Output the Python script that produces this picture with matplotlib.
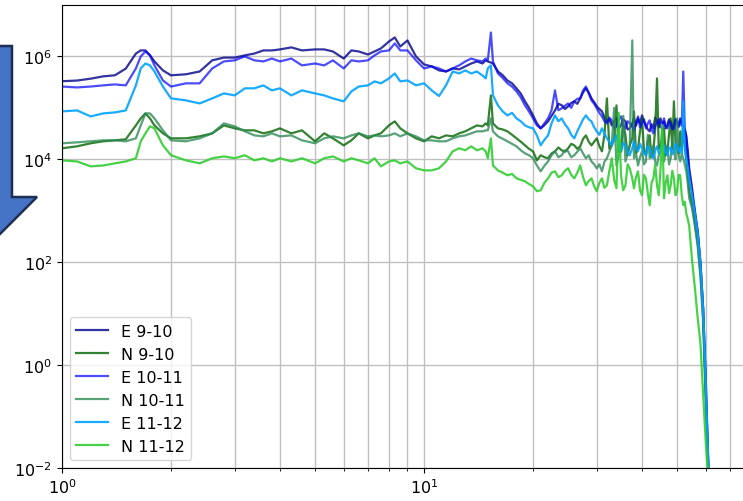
import matplotlib
matplotlib.use("Agg")
import matplotlib.pyplot as plt
import matplotlib.ticker as mticker
from matplotlib.patches import Polygon

# frequency axis (Hz)
freq = [1.0, 1.1, 1.2, 1.3, 1.4, 1.5, 1.6, 1.65, 1.7, 1.75, 1.8, 1.9,
        2.0, 2.2, 2.4, 2.6, 2.8, 3.0, 3.2, 3.4, 3.6, 3.8,
        4.0, 4.3, 4.6, 5.0, 5.3, 5.6, 6.0, 6.3, 6.6, 7.0, 7.3, 7.6,
        8.0, 8.3, 8.6, 9.0, 9.5,
        10, 10.5, 11, 11.5, 12, 12.5, 13, 13.5, 14, 14.5, 14.8, 15, 15.3, 15.5,
        16, 16.5, 17, 17.5, 18, 18.5, 19, 19.5,
        20, 20.5, 21, 21.5, 22, 22.5, 23, 23.5, 24, 24.5, 25, 25.5, 26, 26.5, 27, 27.5, 28, 28.5, 29, 29.5,
        30, 30.5, 31, 31.5, 32, 32.5, 33, 33.5, 34, 34.5, 35, 35.5, 36, 36.5, 37, 37.6,
        38, 38.5, 39, 39.5, 40, 40.5, 41, 41.5, 42, 42.5, 43, 43.5, 44, 44.5, 45, 45.5,
        46, 46.5, 47, 47.5, 48, 48.5, 49, 49.5, 50, 50.5, 51, 51.5, 52, 52.5, 53, 53.5,
        54, 55, 56, 57, 58, 59, 60, 61]

e_9_10 = [3.3e5, 3.4e5, 3.7e5, 4.1e5, 4.3e5, 5.8e5, 1.14e6, 1.31e6, 1.31e6, 1.05e6, 8.0e5, 5.35e5,
          4.3e5, 4.5e5, 5.1e5, 8.4e5, 9.5e5, 9.5e5, 1.05e6, 1.14e6, 1.31e6, 1.31e6,
          1.37e6, 1.5e6, 1.31e6, 1.37e6, 1.37e6, 1.25e6, 9.1e5, 1.31e6, 1.25e6, 1.09e6, 1.25e6, 1.43e6,
          1.95e6, 2.34e6, 1.56e6, 2.05e6, 1.0e6,
          7.0e5, 6.4e5, 5.35e5, 5.1e5, 5.85e5, 5.6e5, 6.4e5, 7.3e5, 8.0e5, 7.3e5, 8.4e5, 8.0e5, 7.6e5, 7.3e5,
          5.1e5, 4.3e5, 3.4e5, 3.0e5, 2.4e5, 1.9e5, 1.34e5, 1.0e5,
          7.15e4, 5.0e4, 4.0e4, 4.6e4, 5.47e4, 7.0e4, 8.9e4, 1.2e5, 1.13e5, 9.5e4, 1.07e5, 1.25e5, 1.34e5, 1.2e5, 1.53e5, 2.0e5, 2.4e5, 2.0e5, 1.53e5, 1.3e5,
          1.07e5, 9.5e4, 8.55e4, 6.5e4, 5.47e4, 6.0e4, 4.57e4, 5.5e4, 6.25e4, 4.0e4, 4.57e4, 6.0e4, 5.47e4, 3.8e4, 4.0e4, 5.0e4,
          6.25e4, 4.5e4, 6.25e4, 5.0e4, 7.15e4, 5.5e4, 4.57e4, 3.8e4, 3.5e4, 4.8e4, 4.0e4, 6.5e4, 5.47e4, 4.2e4, 6.25e4, 5.0e4,
          5.47e4, 4.0e4, 4.57e4, 6.0e4, 5.47e4, 4.0e4, 4.57e4, 5.8e4, 5.47e4, 4.5e4, 6.25e4, 5.0e4, 4.57e4, 3.8e4, 2.92e4, 1.5e4,
          6.7e3, 2.74e3, 980, 366, 95.5, 12.6, 0.36, 0.01]

n_9_10 = [1.64e4, 1.79e4, 2.05e4, 2.24e4, 2.34e4, 2.45e4, 4.57e4, 6.25e4, 7.81e4, 6.25e4, 4.57e4, 3.2e4,
          2.56e4, 2.56e4, 2.8e4, 3.2e4, 4.57e4, 4.0e4, 3.66e4, 3.66e4, 3.2e4, 3.5e4,
          4.0e4, 3.2e4, 3.66e4, 2.24e4, 3.2e4, 2.56e4, 1.87e4, 2.34e4, 3.2e4, 2.56e4, 2.92e4, 3.2e4,
          4.57e4, 5.47e4, 4.0e4, 3.2e4, 2.56e4,
          2.24e4, 2.8e4, 2.56e4, 2.92e4, 2.8e4, 3.2e4, 3.5e4, 4.0e4, 4.57e4, 4.37e4, 5.0e4, 4.57e4, 1.75e5, 5.0e4,
          4.0e4, 3.8e4, 3.5e4, 3.0e4, 2.56e4, 2.2e4, 1.87e4, 1.6e4,
          1.43e4, 9.55e3, 1.2e4, 1.1e4, 1.05e4, 1.3e4, 1.43e4, 1.7e4, 1.5e4, 1.4e4, 1.64e4, 2.0e4, 1.87e4, 1.6e4, 1.79e4, 2.5e4, 2.92e4, 2.2e4, 1.87e4, 2.2e4,
          2.56e4, 1.8e4, 1.43e4, 3.0e4, 1.53e5, 1.6e4, 1.87e4, 2.5e4, 1.12e5, 1.4e4, 1.43e4, 5.0e4, 2.92e4, 1.2e4, 1.87e4, 2.56e4,
          8.55e4, 1.3e4, 1.64e4, 3.5e4, 6.25e4, 1.5e4, 1.2e4, 2.2e4, 2.92e4, 1.1e4, 1.43e4, 4.0e4, 3.74e5, 1.6e4, 1.87e4, 2.5e4,
          4.0e4, 1.2e4, 1.43e4, 3.0e4, 6.25e4, 1.6e4, 1.34e5, 2.0e4, 1.87e4, 1.3e4, 3.5e4, 1.5e4, 4.0e4, 2.0e4, 1.05e4, 5.0e3,
          2.4e3, 1.28e3, 572, 234, 61, 8.17, 0.23, 0.008]

e_10_11 = [2.6e5, 2.5e5, 2.6e5, 2.74e5, 2.86e5, 2.74e5, 5.85e5, 1.0e6, 1.25e6, 1.05e6, 6.7e5, 3.42e5,
           2.6e5, 3.0e5, 3.0e5, 5.85e5, 8.0e5, 8.4e5, 1.0e6, 8.4e5, 8.0e5, 9.1e5,
           8.0e5, 9.1e5, 6.7e5, 7.3e5, 6.7e5, 8.4e5, 5.85e5, 8.4e5, 8.0e5, 8.4e5, 1.05e6, 1.25e6,
           1.31e6, 1.79e6, 1.31e6, 1.31e6, 8.4e5,
           5.85e5, 6.4e5, 5.85e5, 5.1e5, 5.85e5, 6.7e5, 8.0e5, 9.1e5, 8.4e5, 8.0e5, 9.1e5, 8.4e5, 2.92e6, 8.0e5,
           4.67e5, 3.8e5, 3.0e5, 2.6e5, 2.09e5, 1.6e5, 1.12e5, 8.5e4,
           6.25e4, 4.57e4, 4.0e4, 5.0e4, 6.25e4, 9.0e4, 2.19e5, 9.0e4, 9.8e4, 1.1e5, 1.22e5, 1.0e5, 1.34e5, 1.5e5, 1.53e5, 2.2e5, 2.6e5, 1.9e5, 1.4e5, 1.2e5,
           9.8e4, 8.0e4, 6.83e4, 5.5e4, 5.0e4, 6.5e4, 5.72e4, 4.0e4, 4.37e4, 6.0e4, 6.83e4, 4.5e4, 4.0e4, 5.5e4, 5.0e4, 4.37e4,
           3.66e4, 5.0e4, 6.83e4, 4.2e4, 5.0e4, 6.0e4, 4.0e4, 5.0e4, 5.72e4, 3.8e4, 3.2e4, 4.5e4, 5.0e4, 6.0e4, 4.37e4, 3.8e4,
           6.25e4, 4.5e4, 4.0e4, 5.5e4, 5.0e4, 3.8e4, 4.0e4, 6.0e4, 5.0e4, 4.2e4, 5.72e4, 4.5e4, 5.1e5, 4.0e4, 2.56e4, 1.2e4,
           5.35e3, 2.19e3, 890, 418, 95.5, 12.6, 0.56, 0.0114]

n_10_11 = [2.05e4, 2.14e4, 2.24e4, 2.34e4, 2.34e4, 2.24e4, 2.56e4, 4.57e4, 7.81e4, 7.81e4, 6.25e4, 3.66e4,
           2.34e4, 2.24e4, 2.56e4, 3.2e4, 5.0e4, 4.37e4, 3.5e4, 2.92e4, 2.8e4, 3.2e4,
           2.8e4, 2.92e4, 2.34e4, 2.05e4, 2.56e4, 2.8e4, 2.56e4, 2.92e4, 3.2e4, 2.8e4, 2.92e4, 2.8e4,
           2.92e4, 3.2e4, 2.8e4, 3.2e4, 2.8e4,
           2.34e4, 2.34e4, 2.24e4, 2.24e4, 2.56e4, 2.8e4, 2.92e4, 3.2e4, 3.5e4, 3.5e4, 3.66e4, 3.66e4, 6.25e4, 3.5e4,
           2.8e4, 2.5e4, 2.24e4, 2.0e4, 1.79e4, 1.5e4, 1.31e4, 1.2e4,
           1.05e4, 7.6e3, 5.85e3, 7.5e3, 9.1e3, 1.2e4, 1.43e4, 1.1e4, 1.2e4, 1.5e4, 1.43e4, 1.1e4, 1.2e4, 1.4e4, 1.64e4, 1.3e4, 1.05e4, 1.2e4, 9.1e3, 8.0e3,
           6.7e3, 8.0e3, 5.85e3, 9.0e3, 1.05e4, 1.4e4, 1.87e4, 1.0e5, 7.6e3, 1.2e4, 1.43e4, 7.0e4, 9.1e3, 1.3e4, 1.87e4, 2.05e6,
           1.05e4, 1.3e4, 7.6e3, 1.1e4, 1.43e4, 8.0e3, 9.1e3, 3.0e4, 1.05e4, 1.4e4, 1.87e4, 9.0e3, 7.6e3, 1.2e4, 1.43e4, 4.0e4,
           9.1e3, 1.3e4, 1.87e4, 8.0e3, 1.05e4, 2.5e4, 1.43e4, 1.0e4, 6.25e4, 1.2e4, 9.1e3, 1.3e4, 1.05e4, 8.0e3, 5.85e3, 3.5e3,
           1.75e3, 1.12e3, 500, 205, 53.5, 7.47, 0.21, 0.008]

e_11_12 = [8.55e4, 8.93e4, 6.83e4, 7.81e4, 8.17e4, 8.93e4, 2.74e5, 5.85e5, 7.3e5, 6.7e5, 5.1e5, 2.6e5,
           1.53e5, 1.4e5, 1.22e5, 1.53e5, 1.91e5, 1.75e5, 2.4e5, 2.4e5, 2.74e5, 2.19e5,
           2.4e5, 1.75e5, 2.19e5, 1.91e5, 1.75e5, 1.53e5, 1.34e5, 2.09e5, 2.6e5, 2.74e5, 3.27e5, 3.0e5,
           3.74e5, 4.67e5, 3.27e5, 3.42e5, 2.74e5,
           3.0e5, 2.19e5, 1.7e5, 2.74e5, 5.1e5, 4.67e5, 5.35e5, 4.67e5, 5.1e5, 4.27e5, 3.74e5, 5.85e5, 6.7e5, 1.75e5,
           1.12e5, 8.5e4, 7.15e4, 8.0e4, 6.25e4, 5.5e4, 4.57e4, 4.2e4,
           4.0e4, 2.92e4, 1.87e4, 2.4e4, 2.92e4, 5.0e4, 7.15e4, 5.5e4, 6.25e4, 4.8e4, 4.0e4, 3.0e4, 2.56e4, 3.5e4, 4.57e4, 6.0e4, 7.15e4, 6.0e4, 5.47e4, 4.2e4,
           3.5e4, 3.0e4, 4.0e4, 3.2e4, 2.56e4, 2.2e4, 1.87e4, 2.5e4, 2.92e4, 1.7e4, 1.43e4, 2.1e4, 1.87e4, 1.4e4, 1.2e4, 1.64e4,
           2.24e4, 1.6e4, 1.43e4, 2.0e4, 1.64e4, 1.3e4, 1.2e4, 1.8e4, 1.64e4, 1.2e4, 1.05e4, 1.5e4, 1.79e4, 1.3e4, 1.43e4, 2.0e4,
           1.87e4, 1.4e4, 1.2e4, 1.7e4, 1.64e4, 1.25e4, 1.43e4, 2.0e4, 1.87e4, 1.4e4, 1.64e4, 1.3e4, 1.34e5, 1.5e4, 1.05e4, 7.0e3,
           4.27e3, 2.0e3, 890, 366, 95.5, 12.6, 0.45, 0.011]

n_11_12 = [9.55e3, 9.1e3, 7.3e3, 7.6e3, 8.36e3, 9.1e3, 1.05e4, 2.24e4, 3.2e4, 4.37e4, 4.0e4, 1.87e4,
           1.2e4, 9.55e3, 8.36e3, 1.05e4, 1.14e4, 1.05e4, 1.2e4, 9.55e3, 1.05e4, 9.1e3,
           1.05e4, 9.1e3, 1.05e4, 8.36e3, 1.05e4, 1.14e4, 9.1e3, 1.05e4, 9.55e3, 8.36e3, 1.05e4, 7.3e3,
           9.1e3, 9.55e3, 8.36e3, 9.1e3, 6.7e3,
           6.1e3, 6.1e3, 6.7e3, 9.1e3, 1.43e4, 1.64e4, 1.5e4, 1.79e4, 1.5e4, 1.64e4, 1.43e4, 1.05e4, 2.56e4, 7.6e3,
           6.1e3, 5.5e3, 4.89e3, 5.2e3, 4.27e3, 4.0e3, 3.74e3, 3.3e3,
           2.99e3, 2.4e3, 2.5e3, 3.5e3, 4.27e3, 5.5e3, 5.85e3, 4.5e3, 4.89e3, 6.0e3, 6.7e3, 5.0e3, 4.27e3, 5.5e3, 7.6e3, 4.5e3, 3.13e3, 3.8e3, 4.27e3, 3.0e3,
           2.4e3, 3.5e3, 4.27e3, 2.8e3, 3.13e3, 6.0e3, 1.05e4, 4.0e3, 2.74e3, 8.0e4, 4.89e3, 2.5e3, 3.13e3, 8.0e3, 6.7e3, 4.27e3,
           2.74e3, 4.5e3, 5.85e3, 2.5e3, 2.0e3, 5.0e3, 4.27e3, 2.2e3, 1.28e3, 3.5e3, 4.27e3, 8.0e3, 3.13e3, 2.0e3, 6.7e3, 4.6e4,
           1.75e3, 3.5e3, 4.89e3, 2.2e3, 3.13e3, 6.0e3, 4.27e3, 2.0e3, 2.4e3, 5.0e3, 4.89e3, 2.0e3, 1.28e3, 1.5e3, 890, 700,
           500, 109, 31.3, 8.17, 2.67, 0.286, 0.031, 0.006]

labels = ["E 9-10", "N 9-10", "E 10-11", "N 10-11", "E 11-12", "N 11-12"]
series = [e_9_10, n_9_10, e_10_11, n_10_11, e_11_12, n_11_12]
colors = ["darkblue", "darkgreen", "blue", "seagreen", "#00a2ff", "limegreen"]
alphas = [0.8, 0.8, 0.7, 0.8, 0.9, 0.9]

plt.rcParams["font.size"] = 11.5

W, H = 743, 502
fig = plt.figure(figsize=(W / 100, H / 100), dpi=100)
# axes run a little past the right edge, as in the cropped screenshot
ax = fig.add_axes([62 / W, 33 / H, 689 / W, 463 / H])

for vals, lab, col, a in zip(series, labels, colors, alphas):
    ax.plot(freq, vals, color=col, alpha=a, lw=1.6, label=lab)

ax.set_xscale("log")
ax.set_yscale("log")
ax.set_xlim(1, 80)
ax.set_ylim(1e-2, 1e7)
ax.set_yticks([1e-2, 1e0, 1e2, 1e4, 1e6])
ax.yaxis.set_minor_locator(mticker.NullLocator())
ax.grid(True, which="both", axis="x", color="#c0c0c0", lw=1)
ax.grid(True, which="major", axis="y", color="#c0c0c0", lw=1)
ax.legend(loc="lower left", fontsize=11.5)

# blue arrow shape partly cut at the left edge (pixel coords from top-left)
arrow_px = [(-38, 47), (12, 47), (12, 198), (37, 198), (-13, 248), (-63, 198), (-38, 198)]
arrow = Polygon([(x / W, 1 - y / H) for x, y in arrow_px], closed=True,
                transform=fig.transFigure, facecolor="#4472c4",
                edgecolor="#1f2f52", lw=1.8, clip_on=False)
fig.patches.append(arrow)

fig.savefig("out.png", dpi=100)
